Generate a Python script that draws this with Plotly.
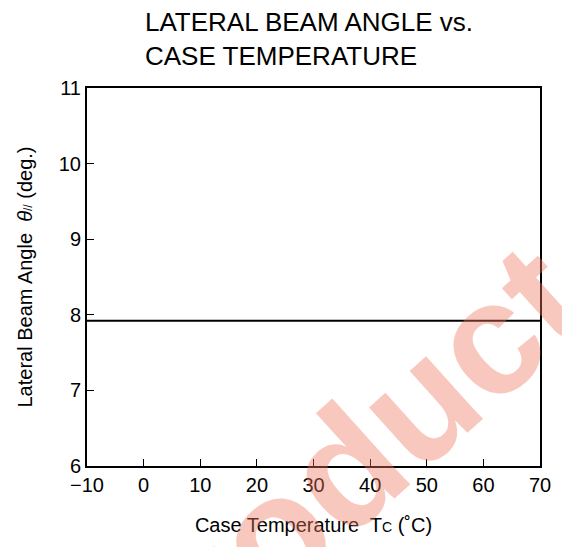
import plotly.graph_objects as go

# Data
case_temp = [-10, 70]
beam_angle = [7.92, 7.92]
x_ticks = [-10, 0, 10, 20, 30, 40, 50, 60, 70]
y_ticks = [6, 7, 8, 9, 10, 11]

FONT = "Liberation Sans, Arial, sans-serif"
W, H = 562, 547
L, R, T, B = 87, 22, 88, 81
PW, PH = W - L - R, H - T - B

fig = go.Figure()
fig.add_trace(go.Scatter(x=case_temp, y=beam_angle, mode="lines",
                         line=dict(color="black", width=2), showlegend=False,
                         hoverinfo="skip"))

axis_common = dict(showline=True, linecolor="black", linewidth=2, mirror=True,
                   ticks="inside", ticklen=7, tickwidth=1.2, tickcolor="black",
                   showgrid=False, zeroline=False,
                   tickfont=dict(family=FONT, size=20, color="black"))

fig.update_xaxes(range=[-10, 70], tickvals=x_ticks, **axis_common,
                 title=dict(text="Case Temperature  T<span style='font-size:14px'>C</span> (˚C)",
                            font=dict(family=FONT, size=20, color="black"), standoff=23))
fig.update_yaxes(range=[6, 11], tickvals=y_ticks, **axis_common,
                 title=dict(text="Lateral Beam Angle  <i>θ</i><span style='font-size:12px'>//</span> (deg.)",
                            font=dict(family=FONT, size=20, color="black"), standoff=21))

fig.update_layout(
    width=W, height=H,
    margin=dict(l=L, r=R, t=T, b=B),
    paper_bgcolor="white", plot_bgcolor="white",
)

# title
fig.add_annotation(text="LATERAL BEAM ANGLE vs.<br>CASE TEMPERATURE",
                   xref="paper", yref="paper", x=(143 - L) / PW, y=1 + (T - 5) / PH,
                   xanchor="left", yanchor="top", align="left", showarrow=False,
                   font=dict(family=FONT, size=26, color="black"))

# watermark
fig.add_annotation(text="<b>Product</b>", xref="paper", yref="paper",
                   x=(335 - L) / PW, y=(H - B - 478) / PH,
                   xanchor="center", yanchor="middle", showarrow=False,
                   textangle=-42, opacity=0.4,
                   font=dict(family=FONT, size=160, color="rgb(240,120,95)"))

fig.write_html("out.html", config={"displayModeBar": False},
               post_script="document.body.style.margin='0';document.body.style.overflow='hidden';")
